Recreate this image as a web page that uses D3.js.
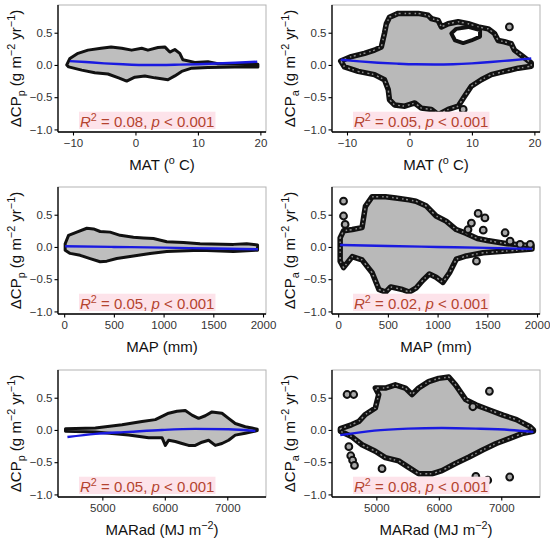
<!DOCTYPE html>
<html lang="en">
<head>
  <meta charset="UTF-8">
  <title>Delta CP vs climate</title>
  <script src="https://d3js.org/d3.v7.min.js"></script>
  <style>
    body { margin: 0; background: #fff; }
    svg text { font-family: "Liberation Sans", Arial, sans-serif; }
    .tick text { fill: #333; font-size: 11.5px; }
    .tick line { stroke: #000; }
  </style>
</head>
<body>
  <svg id="chart" width="550" height="546"></svg>

  <script>
    // ---- data ----
    // envelopes of the point clouds (upper and lower edges) and fitted curves

    // MAT vs dCPp
    const p1UpX = [-11.0, -10.5, -9.2, -7.6, -5.5, -3.9, -2.2, -0.6, 1.0, 2.0, 3.6, 4.7, 5.5, 6.3, 7.1, 7.6, 9.5, 11.6, 13.2, 15.9, 19.6];
    const p1UpY = [0.0, 0.10, 0.18, 0.23, 0.26, 0.28, 0.26, 0.23, 0.26, 0.23, 0.27, 0.28, 0.20, 0.24, 0.18, 0.08, 0.04, 0.05, 0.02, 0.02, 0.01];
    const p1LoX = [-11.0, -10.7, -8.6, -6.5, -4.4, -2.7, -1.4, -0.1, 1.5, 3.1, 5.2, 6.3, 7.4, 9.0, 11.6, 15.9, 19.6];
    const p1LoY = [0.0, -0.03, -0.08, -0.12, -0.14, -0.20, -0.25, -0.19, -0.17, -0.20, -0.23, -0.17, -0.10, -0.05, -0.04, -0.03, -0.03];
    const fit1X = [-10.5, -8, -5, -2, 1, 4, 7, 10, 13, 16, 19.5];
    const fit1Y = [0.06, 0.045, 0.025, 0.01, 0.0, 0.0, 0.005, 0.012, 0.022, 0.035, 0.05];

    // MAT vs dCPa
    const p2UpX = [-11.0, -9.3, -7.2, -5.6, -4.5, -4.0, -3.7, -3.2, -1.8, 1.4, 3.0, 3.5, 4.6, 5.1, 6.2, 7.8, 9.4, 11.0, 12.6, 13.6, 14.2, 15.2, 16.3, 16.8, 17.9, 19.5];
    const p2UpY = [0.06, 0.13, 0.18, 0.23, 0.28, 0.49, 0.64, 0.74, 0.80, 0.80, 0.77, 0.72, 0.69, 0.59, 0.64, 0.67, 0.64, 0.59, 0.56, 0.49, 0.38, 0.36, 0.33, 0.23, 0.15, 0.03];
    const p2LoX = [-11.0, -10.4, -8.2, -5.6, -4.0, -3.4, -3.2, -2.4, -0.75, 0.85, 1.9, 3.5, 4.6, 6.2, 7.8, 8.8, 9.9, 11.5, 13.1, 15.2, 17.4, 19.5];
    const p2LoY = [0.06, -0.03, -0.10, -0.15, -0.23, -0.38, -0.54, -0.62, -0.64, -0.59, -0.67, -0.69, -0.77, -0.69, -0.64, -0.49, -0.33, -0.23, -0.15, -0.10, -0.05, -0.02];
    const hole2X = [6.7, 7.5, 9.4, 11.3, 11.3, 9.9, 8.6, 7.3];
    const hole2Y = [0.49, 0.56, 0.59, 0.54, 0.44, 0.38, 0.34, 0.38];
    const out2X = [16.0, 8.6, 5.4];
    const out2Y = [0.59, -0.69, -0.80];
    const fit2X = [-11, -8, -5, -2, 1, 4, 7, 10, 13, 16, 19.5];
    const fit2Y = [0.08, 0.055, 0.035, 0.02, 0.01, 0.008, 0.012, 0.025, 0.045, 0.07, 0.10];

    // MAP vs dCPp
    const p3UpX = [10, 44, 127, 228, 295, 362, 462, 563, 697, 797, 898, 1032, 1200, 1367, 1703, 1836, 1945];
    const p3UpY = [0.05, 0.18, 0.23, 0.29, 0.28, 0.24, 0.23, 0.18, 0.15, 0.14, 0.13, 0.08, 0.07, 0.05, 0.04, 0.05, 0.03];
    const p3LoX = [10, 60, 161, 261, 362, 429, 529, 697, 864, 1032, 1367, 1703, 1945];
    const p3LoY = [-0.05, -0.10, -0.13, -0.18, -0.23, -0.22, -0.18, -0.14, -0.10, -0.07, -0.05, -0.07, -0.05];
    const fit3X = [10, 500, 1000, 1500, 1950];
    const fit3Y = [0.01, 0.0, -0.01, -0.025, -0.035];

    // MAP vs dCPa
    const p4UpX = [20, 54, 142, 240, 274, 342, 477, 579, 714, 782, 883, 985, 1086, 1188, 1289, 1400, 1500, 1700, 1950];
    const p4UpY = [0.14, 0.25, 0.27, 0.30, 0.63, 0.78, 0.78, 0.76, 0.73, 0.71, 0.64, 0.48, 0.40, 0.27, 0.21, 0.13, 0.10, 0.05, 0.02];
    const p4LoX = [20, 54, 142, 240, 342, 410, 477, 528, 646, 714, 782, 850, 917, 985, 1053, 1120, 1188, 1289, 1458, 1729, 1950];
    const p4LoY = [-0.22, -0.32, -0.15, -0.20, -0.40, -0.66, -0.70, -0.62, -0.66, -0.70, -0.64, -0.52, -0.42, -0.47, -0.55, -0.40, -0.19, -0.14, -0.09, -0.06, -0.03];
    const out4X = [54, 54, 70, 477, 1306, 1340, 1408, 1476, 1459, 1391, 1679, 1729, 1830, 1932];
    const out4Y = [0.71, 0.48, 0.35, -0.78, 0.27, 0.37, 0.52, 0.45, 0.26, -0.22, 0.22, 0.09, 0.04, 0.04];
    const fit4X = [20, 500, 1000, 1500, 1950];
    const fit4Y = [0.03, 0.015, 0.0, -0.015, -0.03];

    // MARad vs dCPp
    const p5UpX = [4410, 4888, 5315, 5635, 5848, 5955, 6061, 6195, 6328, 6435, 6541, 6648, 6755, 6915, 7021, 7128, 7288, 7395, 7480];
    const p5UpY = [0.02, 0.03, 0.08, 0.13, 0.16, 0.21, 0.26, 0.29, 0.30, 0.23, 0.18, 0.22, 0.28, 0.26, 0.18, 0.10, 0.05, 0.03, 0.01];
    const p5LoX = [4410, 4888, 5421, 5741, 5955, 6008, 6061, 6168, 6275, 6381, 6488, 6595, 6701, 6808, 6915, 7021, 7128, 7288, 7395, 7480];
    const p5LoY = [-0.02, -0.03, -0.08, -0.12, -0.12, -0.24, -0.16, -0.18, -0.21, -0.24, -0.24, -0.19, -0.16, -0.24, -0.21, -0.16, -0.08, -0.05, -0.03, -0.01];
    const fit5X = [4441, 4888, 5421, 5955, 6488, 7021, 7450];
    const fit5Y = [-0.11, -0.06, -0.03, 0.0, 0.016, 0.01, -0.016];

    // MARad vs dCPa
    const p6UpX = [4424, 4600, 4718, 4824, 4984, 5038, 4984, 5144, 5304, 5464, 5571, 5677, 5837, 5997, 6160, 6268, 6431, 6593, 6810, 7027, 7244, 7461, 7515];
    const p6UpY = [0.02, 0.08, 0.13, 0.24, 0.34, 0.55, 0.65, 0.65, 0.70, 0.65, 0.55, 0.65, 0.75, 0.80, 0.82, 0.70, 0.47, 0.39, 0.31, 0.23, 0.16, 0.05, 0.0];
    const p6LoX = [4424, 4600, 4771, 4984, 5144, 5357, 5517, 5677, 5889, 6051, 6268, 6485, 6702, 6919, 7136, 7352, 7515];
    const p6LoY = [-0.02, -0.10, -0.23, -0.33, -0.43, -0.48, -0.58, -0.68, -0.68, -0.63, -0.52, -0.42, -0.31, -0.21, -0.13, -0.05, -0.02];
    const out6X = [4531, 4637, 4560, 4590, 4620, 4650, 5091, 6593, 6783, 7135, 6545, 6810];
    const out6Y = [0.55, 0.55, -0.26, -0.40, -0.47, -0.55, -0.60, -0.72, -0.78, -0.73, 0.36, 0.60];
    const fit6X = [4422, 4968, 5509, 6051, 6593, 7136, 7515];
    const fit6Y = [-0.08, -0.01, 0.02, 0.03, 0.02, 0.0, -0.03];

    // axis settings and labels
    const xDomains = { MAT: [-12.4, 20.9], MAP: [-62, 2030], MARad: [4290, 7620] };
    const xTicks = { MAT: [-10, 0, 10, 20], MAP: [0, 500, 1000, 1500, 2000], MARad: [5000, 6000, 7000] };
    const yTicks = [-1.0, -0.5, 0.0, 0.5];
    const yDomain = [-1.04, 0.93];
    const r2Labels = ["0.08", "0.05", "0.05", "0.02", "0.05", "0.08"];

    const zip = (xs, ys) => xs.map((x, i) => [x, ys[i]]);

    const panels = [
      { col: 0, row: 0, v: "MAT", sub: "p", up: zip(p1UpX, p1UpY), lo: zip(p1LoX, p1LoY), fit: zip(fit1X, fit1Y), out: [], hole: null, r2: r2Labels[0] },
      { col: 1, row: 0, v: "MAT", sub: "a", up: zip(p2UpX, p2UpY), lo: zip(p2LoX, p2LoY), fit: zip(fit2X, fit2Y), out: zip(out2X, out2Y), hole: zip(hole2X, hole2Y), r2: r2Labels[1] },
      { col: 0, row: 1, v: "MAP", sub: "p", up: zip(p3UpX, p3UpY), lo: zip(p3LoX, p3LoY), fit: zip(fit3X, fit3Y), out: [], hole: null, r2: r2Labels[2] },
      { col: 1, row: 1, v: "MAP", sub: "a", up: zip(p4UpX, p4UpY), lo: zip(p4LoX, p4LoY), fit: zip(fit4X, fit4Y), out: zip(out4X, out4Y), hole: null, r2: r2Labels[3] },
      { col: 0, row: 2, v: "MARad", sub: "p", up: zip(p5UpX, p5UpY), lo: zip(p5LoX, p5LoY), fit: zip(fit5X, fit5Y), out: [], hole: null, r2: r2Labels[4] },
      { col: 1, row: 2, v: "MARad", sub: "a", up: zip(p6UpX, p6UpY), lo: zip(p6LoX, p6LoY), fit: zip(fit6X, fit6Y), out: zip(out6X, out6Y), hole: null, r2: r2Labels[5] }
    ];

    const xTitles = {
      MAT: [{ t: "MAT (" }, { t: "o", s: "sup" }, { t: " C)" }],
      MAP: [{ t: "MAP (mm)" }],
      MARad: [{ t: "MARad (MJ m" }, { t: "\u22122", s: "sup" }, { t: ")" }]
    };

    // layout
    const colX = [58, 332];
    const rowY = [5, 187, 370];
    const pw = 208, ph = 127;

    const svg = d3.select("#chart");

    // writes text parts with super/subscripts using dy shifts
    function richText(sel, parts, fs) {
      let cur = 0;
      parts.forEach(p => {
        const want = p.s === "sup" ? -0.42 * fs : p.s === "sub" ? 0.28 * fs : 0;
        sel.append("tspan")
          .attr("dy", want - cur)
          .style("font-size", p.s ? (fs * 0.72) + "px" : fs + "px")
          .style("font-style", p.i ? "italic" : null)
          .text(p.t);
        cur = want;
      });
    }

    panels.forEach((p, idx) => {
      const g = svg.append("g")
        .attr("transform", `translate(${colX[p.col]},${rowY[p.row]})`);

      const x = d3.scaleLinear().domain(xDomains[p.v]).range([0, pw]);
      const y = d3.scaleLinear().domain(yDomain).range([ph, 0]);

      const clipId = "clip" + idx;
      g.append("clipPath").attr("id", clipId)
        .append("rect").attr("width", pw).attr("height", ph);

      // panel border (light grey on top/right)
      g.append("rect")
        .attr("width", pw).attr("height", ph)
        .attr("fill", "none").attr("stroke", "#b3b3b3").attr("stroke-width", 1);

      const plot = g.append("g").attr("clip-path", `url(#${clipId})`);

      // cloud envelope
      const poly = p.up.concat(p.lo.slice().reverse());
      const line = d3.line().x(d => x(d[0])).y(d => y(d[1]));
      const dense = p.sub === "a";

      if (dense) {
        plot.append("path").attr("d", line(poly) + "Z")
          .attr("fill", "#b9b9b9").attr("stroke", "#111").attr("stroke-width", 5.5)
          .attr("stroke-linejoin", "round");
        plot.append("path").attr("d", line(poly) + "Z")
          .attr("fill", "none").attr("stroke", "#8e8e8e").attr("stroke-width", 1.5)
          .attr("stroke-dasharray", "1.5 2.5 2 4").attr("stroke-linejoin", "round");
      } else {
        plot.append("path").attr("d", line(poly) + "Z")
          .attr("fill", "#bebebe").attr("stroke", "#111").attr("stroke-width", 3)
          .attr("stroke-linejoin", "round");
      }

      if (p.hole) {
        plot.append("path").attr("d", line(p.hole) + "Z")
          .attr("fill", "#fff").attr("stroke", "#111").attr("stroke-width", 4)
          .attr("stroke-linejoin", "round");
      }

      plot.selectAll("circle.out")
        .data(p.out)
        .enter().append("circle")
        .attr("class", "out")
        .attr("cx", d => x(d[0]))
        .attr("cy", d => y(d[1]))
        .attr("r", 3.4)
        .attr("fill", "#a8a8a8")
        .attr("stroke", "#111")
        .attr("stroke-width", 2);

      // fitted curve
      plot.append("path")
        .attr("d", d3.line().curve(d3.curveMonotoneX).x(d => x(d[0])).y(d => y(d[1]))(p.fit))
        .attr("fill", "none").attr("stroke", "#1a1ae0").attr("stroke-width", 2.4);

      // R2 annotation
      const fs = 15;
      const ann = g.append("text")
        .attr("x", 22).attr("y", ph - 5)
        .attr("fill", "#b4432f");
      richText(ann, [
        { t: "R", i: true }, { t: "2", s: "sup" },
        { t: " = " + p.r2 + ", " }, { t: "p", i: true }, { t: " < 0.001" }
      ], fs);
      const bb = ann.node().getBBox();
      g.insert("rect", "text")
        .attr("x", bb.x - 1).attr("y", bb.y + 1)
        .attr("width", bb.width + 2).attr("height", bb.height - 2)
        .attr("fill", "#fde3ea");

      // axes
      const yAxis = g.append("g")
        .call(d3.axisLeft(y).tickValues(yTicks).tickFormat(d3.format(".1f")).tickSize(3.5).tickPadding(2));
      const xAxis = g.append("g")
        .attr("transform", `translate(0,${ph})`)
        .call(d3.axisBottom(x).tickValues(xTicks[p.v]).tickFormat(d3.format("d")).tickSize(3.5).tickPadding(3));
      [yAxis, xAxis].forEach(a => {
        a.select(".domain").attr("stroke", "#000").attr("stroke-width", 1.3).attr("d",
          a === yAxis ? `M0,0V${ph}` : `M0,0H${pw}`);
        a.selectAll(".tick line").attr("stroke-width", 1.1);
      });

      // x title
      const xt = g.append("text")
        .attr("x", pw / 2).attr("y", ph + 38)
        .attr("text-anchor", "middle").attr("fill", "#111");
      richText(xt, xTitles[p.v], 15);

      // y title
      const yt = g.append("text")
        .attr("transform", `translate(${-37},${ph / 2}) rotate(-90)`)
        .attr("text-anchor", "middle").attr("fill", "#111");
      richText(yt, [
        { t: "\u0394CP" }, { t: p.sub, s: "sub" }, { t: " (g m" }, { t: "\u22122", s: "sup" },
        { t: " yr" }, { t: "\u22121", s: "sup" }, { t: ")" }
      ], 15);
    });
  </script>
</body>
</html>
